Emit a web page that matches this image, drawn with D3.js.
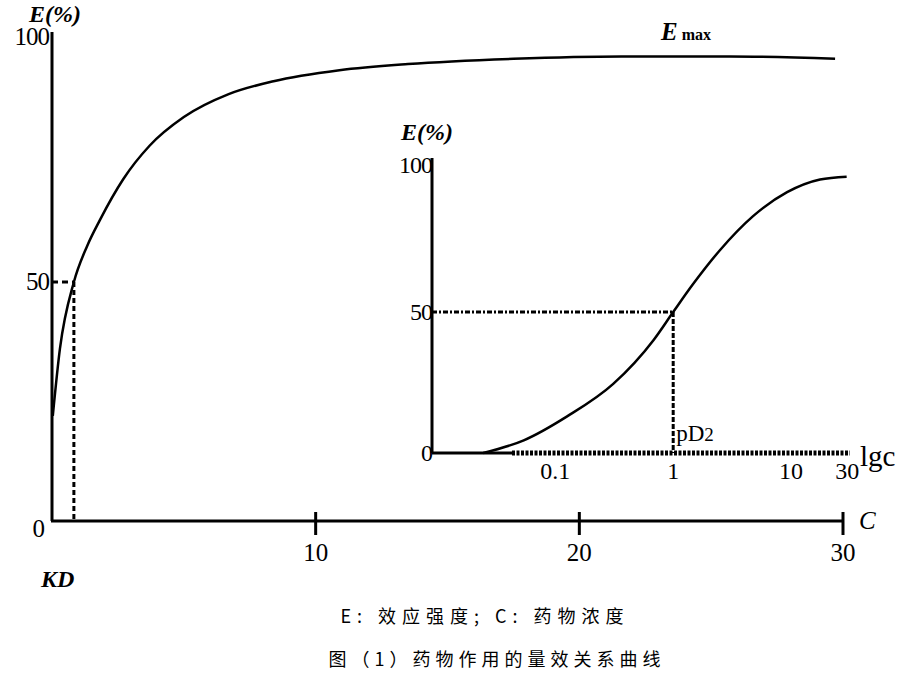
<!DOCTYPE html>
<html>
<head>
<meta charset="utf-8">
<script src="https://cdn.jsdelivr.net/npm/d3@7"></script>
<style>
  body { margin: 0; background: #fff; }
  svg { display: block; }
  text { font-family: "Liberation Serif", "DejaVu Serif", serif; fill: #000; }
  .cjk { font-family: "Noto Sans CJK SC", sans-serif; }
</style>
</head>
<body>
<svg id="chart" width="901" height="696"></svg>
<script>
// main curve: E (%) against concentration C
const mainConc = [0.03, 0.3, 0.83, 1.33, 1.82, 2.7, 3.7, 5.0, 6.7, 8.4, 10.9, 13.5, 17.5, 21.6, 25.7, 29.7]
const mainEffect = [22, 36, 50, 57.5, 63, 71.5, 78.5, 84.5, 89.3, 92, 94.3, 95.6, 96.7, 97.2, 97.2, 96.7]
const mainXTicks = [10, 20, 30]
const mainYTicks = [0, 50, 100]
const kd = 0.83

// inset: E (%) against lg C
const insetConc = [0.0245, 0.054, 0.126, 0.31, 0.68, 1.0, 1.48, 2.5, 4.76, 9.25, 17.6, 29.6]
const insetEffect = [0, 4.5, 13, 24.5, 40, 50, 60, 72, 84, 92.5, 97, 98]
const insetXTicks = [0.1, 1, 10, 30]
const insetYTicks = [0, 50, 100]
const pd2 = 1

const captions = ['E: 效应强度; C: 药物浓度', '图（1）药物作用的量效关系曲线']

const svg = d3.select('#chart')
svg.append('rect').attr('width', 901).attr('height', 696).attr('fill', '#fff')

const x = d3.scaleLinear().domain([0, 30]).range([52, 843])
const y = d3.scaleLinear().domain([0, 100]).range([521, 43])
const ix = d3.scaleLog().domain([0.009, 31.6]).range([432, 850])
const iy = d3.scaleLinear().domain([0, 100]).range([453, 171])

const main = svg.append('g').attr('id', 'main')

// axes
main.append('line')
  .attr('x1', x(0)).attr('x2', x(0))
  .attr('y1', 32).attr('y2', y(0))
  .attr('stroke', '#000').attr('stroke-width', 3)
main.append('line')
  .attr('x1', x(0) - 1).attr('x2', x(30))
  .attr('y1', y(0)).attr('y2', y(0))
  .attr('stroke', '#000').attr('stroke-width', 3)

main.selectAll('.xtick')
  .data(mainXTicks)
  .join('line')
  .classed('xtick', true)
  .attr('x1', (d) => x(d)).attr('x2', (d) => x(d))
  .attr('y1', y(0) - 9).attr('y2', y(0) + 14)
  .attr('stroke', '#000').attr('stroke-width', 3)

main.selectAll('.xlabel')
  .data(mainXTicks)
  .join('text')
  .classed('xlabel', true)
  .attr('x', (d) => x(d))
  .attr('y', y(0) + 40)
  .attr('text-anchor', 'middle')
  .attr('font-size', 25)
  .text((d) => d)

main.selectAll('.ylabel')
  .data(mainYTicks)
  .join('text')
  .classed('ylabel', true)
  .attr('x', (d) => (d === 0 ? 44 : 49))
  .attr('y', (d) => (d === 0 ? y(d) + 16 : d === 100 ? y(d) + 2 : y(d) + 8))
  .attr('text-anchor', 'end')
  .attr('font-size', 25)
  .attr('letter-spacing', -1)
  .text((d) => d)

main.append('text')
  .attr('x', 29).attr('y', 22)
  .attr('font-size', 24).attr('font-weight', 'bold').attr('font-style', 'italic')
  .text('E(%)')

main.append('text')
  .attr('x', 859).attr('y', 529)
  .attr('font-size', 25).attr('font-style', 'italic')
  .text('C')

main.append('text')
  .attr('x', 41).attr('y', 587)
  .attr('font-size', 24).attr('font-weight', 'bold').attr('font-style', 'italic')
  .text('KD')

const emax = main.append('text').attr('x', 661).attr('y', 40)
emax.append('tspan')
  .attr('font-size', 25).attr('font-weight', 'bold').attr('font-style', 'italic')
  .text('E')
emax.append('tspan')
  .attr('dx', 4).attr('font-size', 16).attr('font-weight', 'bold')
  .text('max')

// KD guide lines
main.append('line')
  .attr('x1', x(0)).attr('x2', x(kd))
  .attr('y1', y(50)).attr('y2', y(50))
  .attr('stroke', '#000').attr('stroke-width', 3).attr('stroke-dasharray', '6,4')
main.append('line')
  .attr('x1', x(kd)).attr('x2', x(kd))
  .attr('y1', y(50)).attr('y2', y(0))
  .attr('stroke', '#000').attr('stroke-width', 3).attr('stroke-dasharray', '5,3')

const mainLine = d3.line()
  .x((d) => x(d[0]))
  .y((d) => y(d[1]))
  .curve(d3.curveMonotoneX)

main.append('path')
  .datum(mainConc.map((c, i) => [c, mainEffect[i]]))
  .attr('d', mainLine)
  .attr('fill', 'none')
  .attr('stroke', '#000')
  .attr('stroke-width', 2.5)

// inset
const inset = svg.append('g').attr('id', 'inset')

inset.append('line')
  .attr('x1', ix(0.009)).attr('x2', ix(0.009))
  .attr('y1', 158).attr('y2', iy(0))
  .attr('stroke', '#000').attr('stroke-width', 3)
inset.append('line')
  .attr('x1', ix(0.009)).attr('x2', 512)
  .attr('y1', iy(0)).attr('y2', iy(0))
  .attr('stroke', '#000').attr('stroke-width', 3)
inset.append('line')
  .attr('x1', 512).attr('x2', ix(31.6))
  .attr('y1', iy(0)).attr('y2', iy(0))
  .attr('stroke', '#000').attr('stroke-width', 5).attr('stroke-dasharray', '3,1.5')

inset.selectAll('.iylabel')
  .data(insetYTicks)
  .join('text')
  .classed('iylabel', true)
  .attr('x', 432)
  .attr('y', (d) => (d === 100 ? iy(d) + 2 : iy(d) + 8))
  .attr('text-anchor', 'end')
  .attr('font-size', 24)
  .attr('letter-spacing', -1)
  .text((d) => d)

inset.selectAll('.ixlabel')
  .data(insetXTicks)
  .join('text')
  .classed('ixlabel', true)
  .attr('x', (d) => ix(d))
  .attr('y', iy(0) + 26)
  .attr('text-anchor', 'middle')
  .attr('font-size', 24)
  .text((d) => d)

inset.append('text')
  .attr('x', 401).attr('y', 140)
  .attr('font-size', 24).attr('font-weight', 'bold').attr('font-style', 'italic')
  .text('E(%)')

inset.append('text')
  .attr('x', 860).attr('y', 466)
  .attr('font-size', 29)
  .text('lgc')

const pd = inset.append('text').attr('x', ix(pd2) + 3).attr('y', 441).attr('font-size', 23)
pd.append('tspan').text('pD')
pd.append('tspan').attr('font-size', 19).text('2')

inset.append('line')
  .attr('x1', ix(0.009)).attr('x2', ix(pd2))
  .attr('y1', iy(50)).attr('y2', iy(50))
  .attr('stroke', '#000').attr('stroke-width', 3).attr('stroke-dasharray', '5,2,2,2')
inset.append('line')
  .attr('x1', ix(pd2)).attr('x2', ix(pd2))
  .attr('y1', iy(50)).attr('y2', iy(0))
  .attr('stroke', '#000').attr('stroke-width', 3).attr('stroke-dasharray', '5,2')

const insetLine = d3.line()
  .x((d) => ix(d[0]))
  .y((d) => iy(d[1]))
  .curve(d3.curveMonotoneX)

inset.append('path')
  .datum(insetConc.map((c, i) => [c, insetEffect[i]]))
  .attr('d', insetLine)
  .attr('fill', 'none')
  .attr('stroke', '#000')
  .attr('stroke-width', 2.5)

// captions
svg.selectAll('.caption')
  .data(captions)
  .join('text')
  .classed('caption cjk', true)
  .attr('x', (d, i) => (i === 0 ? 485 : 497))
  .attr('y', (d, i) => 623 + i * 43)
  .attr('text-anchor', 'middle')
  .attr('font-size', 18)
  .attr('letter-spacing', (d, i) => (i === 0 ? 6 : 5))
  .text((d) => d)
</script>
</body>
</html>
